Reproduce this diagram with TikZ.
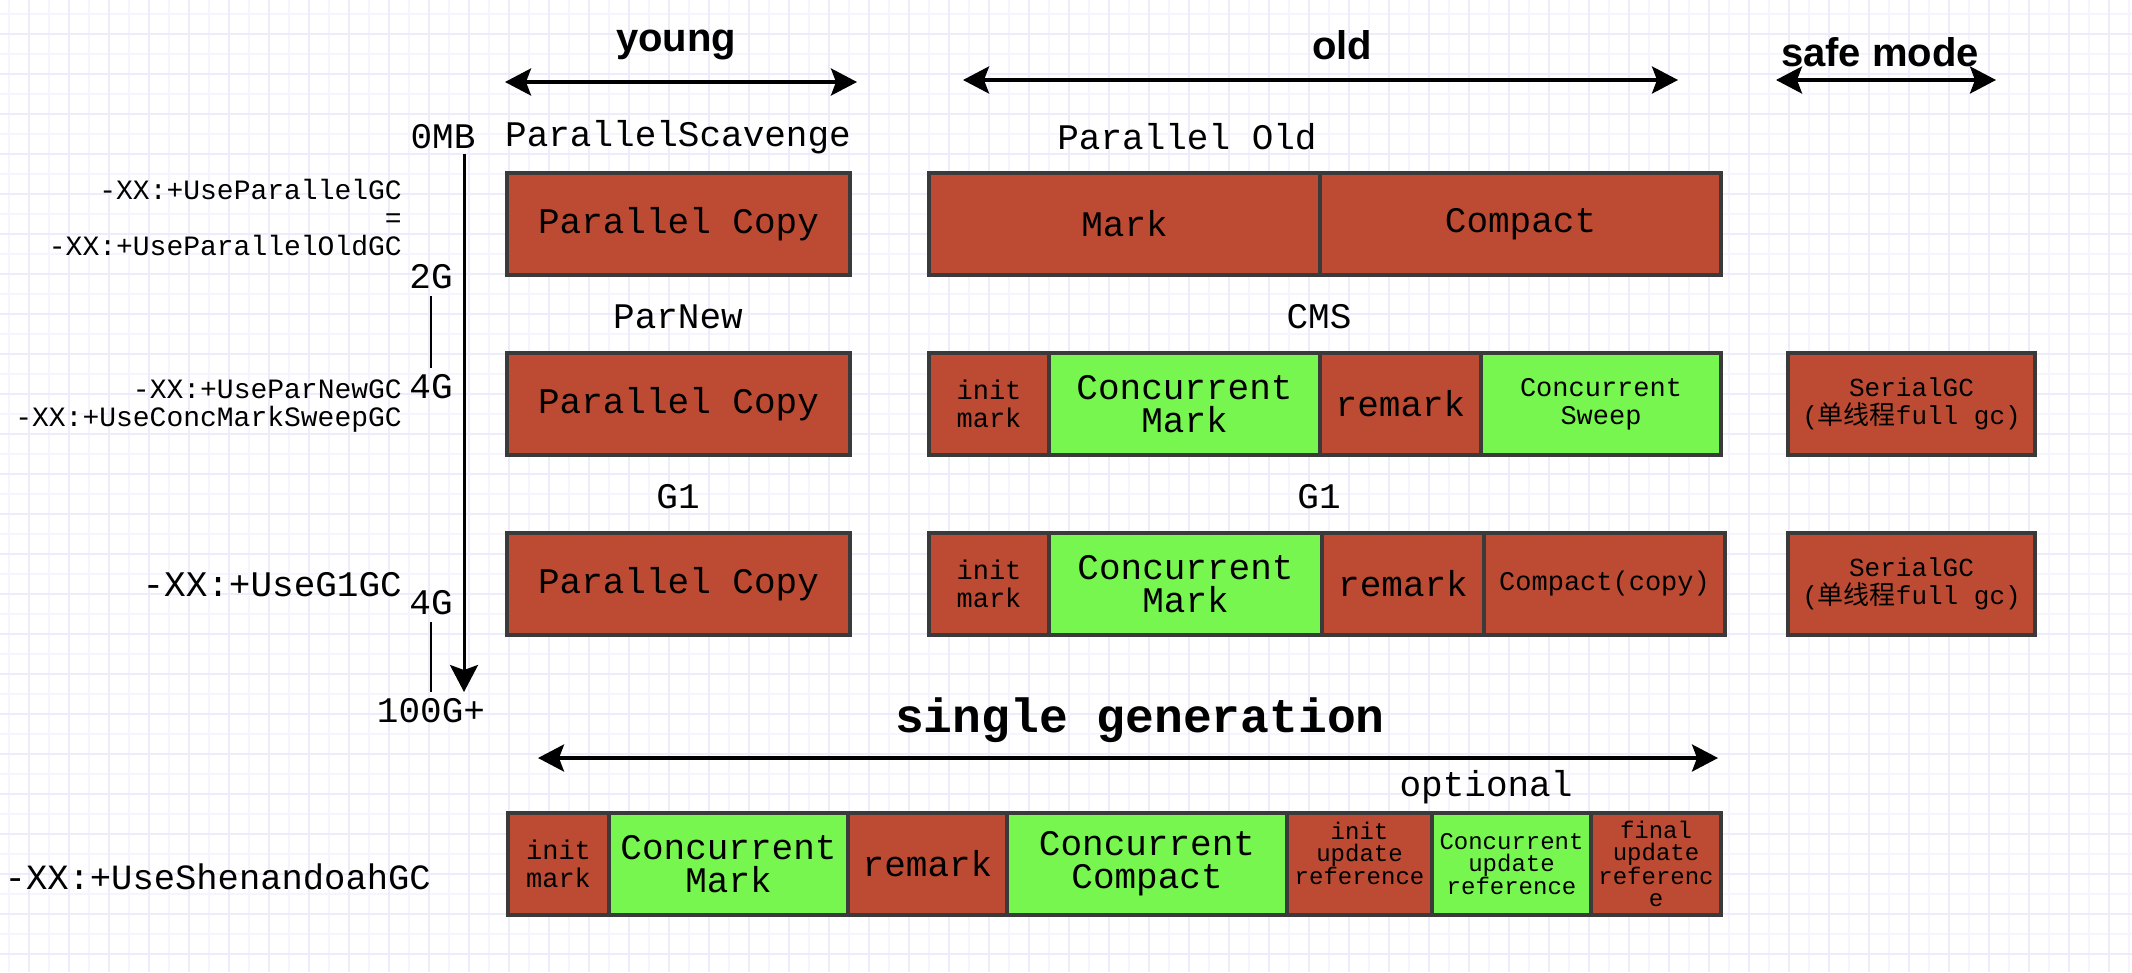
\documentclass[tikz,border=0pt]{standalone}
\usepackage{fontspec}
\setmainfont{Liberation Mono}
\newfontfamily\headfont{Liberation Sans}
\newfontfamily\cjkfont{Noto Sans CJK SC}
\usetikzlibrary{arrows.meta}
\usetikzlibrary{positioning}

\definecolor{gcred}{HTML}{BD4B33}
\definecolor{gcgreen}{HTML}{77F64F}
\definecolor{gcedge}{HTML}{3A3A3A}
\definecolor{gridlo}{HTML}{F5F5FE}
\definecolor{gridhi}{HTML}{ECECFB}

\tikzset{
  phase/.style={draw=gcedge, line width=3.5pt, outer sep=0pt, inner sep=0pt,
    minimum height=102pt, align=center, text=black},
  pause/.style={phase, fill=gcred},
  concur/.style={phase, fill=gcgreen},
  bigtxt/.style={font=\fontsize{36}{33}\selectfont},
  midtxt/.style={font=\fontsize{27}{28}\selectfont},
  smalltxt/.style={font=\fontsize{24}{22}\selectfont},
  flag/.style={anchor=east, inner sep=0pt, align=right},
  axlabel/.style={bigtxt, inner sep=7pt},
  heading/.style={font=\headfont\bfseries\fontsize{40}{40}\selectfont},
  dimarrow/.style={line width=3.5pt,
    {Stealth[length=26pt,width=27pt,inset=5pt]}-{Stealth[length=26pt,width=27pt,inset=5pt]}},
  gridline/.style={line width=1.5pt}
}

\begin{document}
\begin{tikzpicture}[x=1pt, y=-1pt]
          \useasboundingbox (0,0) rectangle (2132,972);
          \fill[white] (0,0) rectangle (2132,972);
          \foreach \gx in {9,29,...,2132} \draw[gridline, gridlo] (\gx,0) -- (\gx,972);
          \foreach \gy in {14,34,...,972} \draw[gridline, gridlo] (0,\gy) -- (2132,\gy);
          \foreach \gx in {29,69,...,2132} \draw[gridline, gridhi] (\gx,0) -- (\gx,972);
          \foreach \gy in {34,74,...,972} \draw[gridline, gridhi] (0,\gy) -- (2132,\gy);

          \node[heading] (young) at (676,45) {young};
          \node[heading] (old) at (1342,45) {old};
          \node[heading] (safe) at (1880,52) {safe mode};
          \coordinate (youngl) at (505,82);
          \coordinate (youngr) at (857,82);
          \coordinate (oldl) at (963,80);
          \coordinate (oldr) at (1678,80);
          \coordinate (safel) at (1776,80);
          \coordinate (safer) at (1996,80);
          \draw[dimarrow] (youngl) -- (youngr);
          \draw[dimarrow] (oldl) -- (oldr);
          \draw[dimarrow] (safel) -- (safer);

          \coordinate (axtop) at (464,154);
          \coordinate (axbot) at (464,692);
          \draw[line width=3pt, -{Stealth[length=27pt,width=28pt,inset=5pt]}] (axtop) -- (axbot);
          \node[axlabel] (mb0) at (443,137) {0MB};
          \node[axlabel] (g2) at (431,277) {2G};
          \node[axlabel] (g4a) at (431,387) {4G};
          \node[axlabel] (g4b) at (431,603) {4G};
          \node[axlabel] (g100) at (431,711) {100G+};
          \draw[line width=1.5pt] (g2) -- (g4a);
          \draw[line width=1.5pt] (g4b) -- (g100);

          \node[flag, font=\fontsize{28}{28}\selectfont] (psflag) at (402,218)
            {-XX:+UseParallelGC\\=\\-XX:+UseParallelOldGC};
          \node[flag, font=\fontsize{28}{28}\selectfont] (cmsflag) at (402,406)
            {-XX:+UseParNewGC\\-XX:+UseConcMarkSweepGC};
          \node[flag, bigtxt] (g1flag) at (402,585) {-XX:+UseG1GC};
          \node[flag, font=\fontsize{35.5}{33}\selectfont] (shflag) at (431,877) {-XX:+UseShenandoahGC};

          \node[bigtxt] (pstitle) at (678,137) {ParallelScavenge};
          \node[bigtxt] (potitle) at (1187,137) {Parallel Old};
          \node[bigtxt] (pntitle) at (678,317) {ParNew};
          \node[bigtxt] (cmstitle) at (1319,317) {CMS};
          \node[bigtxt] (g1ytitle) at (678,497) {G1};
          \node[bigtxt] (g1otitle) at (1319,497) {G1};

          \node[pause, bigtxt, minimum width=343pt, anchor=west] (pcopy1) at (507,224) {Parallel Copy};
          \node[pause, bigtxt, minimum width=391pt, anchor=west] (pomark) at (929,224) {Mark};
          \node[pause, bigtxt, minimum width=401pt, right=0pt of pomark] (pocompact) {Compact};

          \node[pause, bigtxt, minimum width=343pt, anchor=west] (pcopy2) at (507,404) {Parallel Copy};
          \node[pause, midtxt, minimum width=120pt, anchor=west] (cmsinit) at (929,404) {init\\mark};
          \node[concur, bigtxt, minimum width=271pt, right=0pt of cmsinit] (cmsmark) {Concurrent\\Mark};
          \node[pause, bigtxt, minimum width=161pt, right=0pt of cmsmark] (cmsremark) {remark};
          \node[concur, midtxt, minimum width=240pt, right=0pt of cmsremark] (cmssweep) {Concurrent\\Sweep};
          \node[pause, font=\fontsize{26}{28}\selectfont, minimum width=247pt, anchor=west] (serial1) at (1788,404)
            {SerialGC\\({\cjkfont 单线程}full gc)};

          \node[pause, bigtxt, minimum width=343pt, anchor=west] (pcopy3) at (507,584) {Parallel Copy};
          \node[pause, midtxt, minimum width=120pt, anchor=west] (g1init) at (929,584) {init\\mark};
          \node[concur, bigtxt, minimum width=273pt, right=0pt of g1init] (g1mark) {Concurrent\\Mark};
          \node[pause, bigtxt, minimum width=162pt, right=0pt of g1mark] (g1remark) {remark};
          \node[pause, midtxt, minimum width=241pt, right=0pt of g1remark] (g1compact) {Compact(copy)};
          \node[pause, font=\fontsize{26}{28}\selectfont, minimum width=247pt, anchor=west] (serial2) at (1788,584)
            {SerialGC\\({\cjkfont 单线程}full gc)};

          \node[font=\bfseries\fontsize{48}{48}\selectfont] (single) at (1140,720) {single generation};
          \coordinate (singlel) at (538,758);
          \coordinate (singler) at (1718,758);
          \draw[dimarrow] (singlel) -- (singler);
          \node[bigtxt] (optional) at (1486,787) {optional};

          \node[pause, midtxt, minimum width=101pt, anchor=west] (shinit) at (508,864) {init\\mark};
          \node[concur, bigtxt, minimum width=239pt, right=0pt of shinit] (shmark) {Concurrent\\Mark};
          \node[pause, bigtxt, minimum width=159pt, right=0pt of shmark] (shremark) {remark};
          \node[concur, bigtxt, minimum width=280pt, right=0pt of shremark] (shcompact) {Concurrent\\Compact};
          \node[pause, smalltxt, text depth=22pt, minimum width=145pt, right=0pt of shcompact] (shinitref)
            {init\\update\\reference};
          \node[concur, smalltxt, minimum width=159pt, right=0pt of shinitref] (shconcref)
            {Concurrent\\update\\reference};
          \node[pause, smalltxt, minimum width=130pt, right=0pt of shconcref] (shfinalref)
            {final\\update\\referenc\\e};
\end{tikzpicture}
\end{document}
